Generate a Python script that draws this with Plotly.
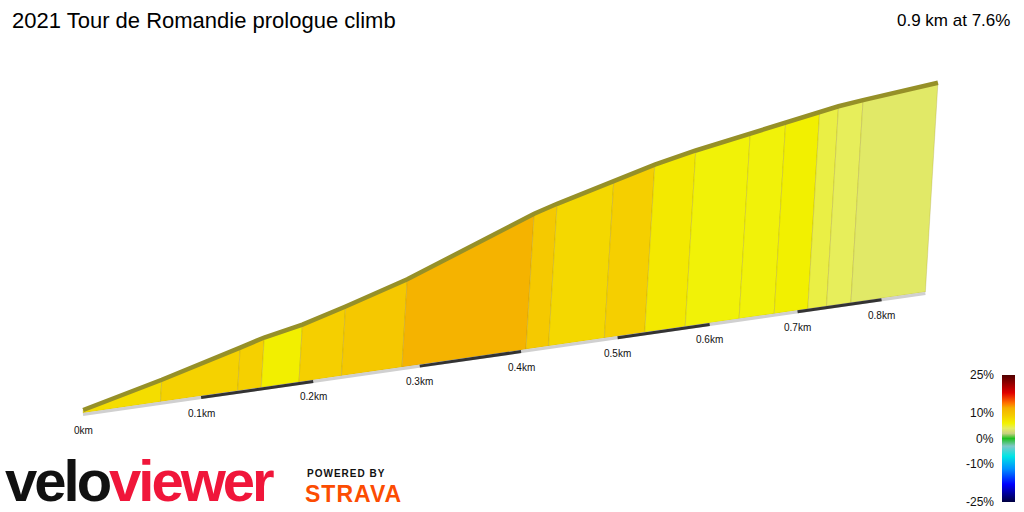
import numpy as np
import plotly.graph_objects as go
from plotly.colors import sample_colorscale

# profile: distance (km) and elevation gain (m) at segment breaks
dist = [0, 0.065, 0.132, 0.153, 0.187, 0.226, 0.283, 0.405, 0.428, 0.486,
        0.529, 0.573, 0.633, 0.673, 0.712, 0.734, 0.763, 0.854]
elev = [0, 4.98, 10.68, 12.51, 14.62, 18.05, 23.42, 37.69, 39.83, 44.49,
        48.25, 51.19, 54.71, 57.04, 59.45, 60.46, 61.66, 65.0]
tick_km = [0, 0.1, 0.2, 0.3, 0.4, 0.5, 0.6, 0.7, 0.8]
tick_labels = ["0km", "0.1km", "0.2km", "0.3km", "0.4km", "0.5km", "0.6km", "0.7km", "0.8km"]
cbar_vals = [25, 10, 0, -10, -25]
cbar_text = ["25%", "10%", "0%", "-10%", "-25%"]

grad_scale = [(-25, "#000040"), (-18, "#0000ff"), (-12, "#0090ff"), (-7, "#00e5e5"),
              (-3, "#80c8c8"), (0, "#20c020"), (2, "#c8d080"), (4, "#e6ee62"),
              (6, "#f2f200"), (9, "#f5cc00"), (12, "#f5b000"), (14, "#ff7000"),
              (18, "#e00000"), (25, "#500000")]
cscale = [[(v + 25) / 50, c] for v, c in grad_scale]

# simple perspective projection
A, B, K = 1213.0, 0.269, 3.9
def proj(d, e, lift=3.0):
    d = np.asarray(d, float); e = np.asarray(e, float)
    f = 1 + B * d
    xb = 83 + A * d / f
    yb = 413 - (xb - 83) * 0.1437
    h = K * e / f + lift
    return xb + 0.06 * h, yb - h

def base(d):
    return proj(d, 0, 0)

fig = go.Figure()
for i in range(len(dist) - 1):
    d0, d1 = dist[i], dist[i + 1]
    g = (elev[i + 1] - elev[i]) / ((d1 - d0) * 1000) * 100
    col = sample_colorscale(cscale, [(g + 25) / 50])[0]
    bx0, by0 = base(d0); bx1, by1 = base(d1)
    tx0, ty0 = proj(d0, elev[i]); tx1, ty1 = proj(d1, elev[i + 1])
    fig.add_trace(go.Scatter(x=[bx0, bx1, tx1, tx0, bx0], y=[by0, by1, ty1, ty0, by0],
                             fill="toself", fillcolor=col, mode="lines",
                             line=dict(color="rgba(150,130,40,0.35)", width=0.7),
                             hoverinfo="skip", showlegend=False))

# base strip and tick bars
bx, by = base(dist)
fig.add_trace(go.Scatter(x=bx, y=by + 1.5, mode="lines", line=dict(color="#d0d0d0", width=3),
                         hoverinfo="skip", showlegend=False))
for k in range(1, len(tick_km) - 1, 2):
    x, y = base([tick_km[k], tick_km[k + 1]])
    fig.add_trace(go.Scatter(x=x, y=y + 1.5, mode="lines", line=dict(color="#333333", width=3),
                             hoverinfo="skip", showlegend=False))

# top slab
tx, ty = proj(dist, elev)
fig.add_trace(go.Scatter(x=tx, y=ty, mode="lines", line=dict(color="#969028", width=4.5),
                         hoverinfo="skip", showlegend=False))

# colorbar
fig.add_trace(go.Scatter(x=[-10], y=[-10], mode="markers",
                         marker=dict(color=[0], cmin=-25, cmax=25, colorscale=cscale,
                                     colorbar=dict(x=1002 / 1024, xanchor="left", thickness=13,
                                                   lenmode="pixels", len=127, ypad=0, xpad=0,
                                                   y=(512 - 438.5) / 512,
                                                   yanchor="middle", outlinewidth=0,
                                                   showticklabels=False, ticks="")),
                         hoverinfo="skip", showlegend=False))

ann = []
for v, t in zip(cbar_vals, cbar_text):
    ann.append(dict(x=996, y=438.5 - v * 2.54, text=t, showarrow=False, xanchor="right",
                    font=dict(size=12, color="#111")))
tkx, tky = base(tick_km)
for x, y, t in zip(tkx, tky, tick_labels):
    ann.append(dict(x=x, y=y + 17, text=t, showarrow=False, font=dict(size=10, color="#111")))
ann += [
    dict(x=10, y=20, text="2021 Tour de Romandie prologue climb", showarrow=False, xanchor="left",
         font=dict(size=22, color="#000")),
    dict(x=1012, y=20, text="0.9 km at 7.6%", showarrow=False, xanchor="right",
         font=dict(size=17, color="#000")),
    dict(x=3, y=480, text="<b><span style='color:#111;letter-spacing:-3px'>velo</span>"
                          "<span style='color:#f0163a;letter-spacing:-3px'>viewer</span></b>",
         showarrow=False, xanchor="left", font=dict(size=58, family="Liberation Sans")),
    dict(x=305, y=473, text="<b><span style='letter-spacing:1px'>POWERED BY</span></b>",
         showarrow=False, xanchor="left", font=dict(size=10, color="#111")),
    dict(x=303, y=494, text="<b><span style='letter-spacing:1px'>STRAVA</span></b>",
         showarrow=False, xanchor="left", font=dict(size=23, color="#fc4c02")),
]

fig.update_layout(
    width=1024, height=512, margin=dict(l=0, r=0, t=0, b=0),
    paper_bgcolor="white", plot_bgcolor="white",
    font=dict(family="Liberation Sans"),
    xaxis=dict(range=[0, 1024], visible=False, fixedrange=True),
    yaxis=dict(range=[512, 0], visible=False, fixedrange=True),
    annotations=ann,
)
fig.write_html("out.html", config={"displayModeBar": False},
               post_script="document.body.style.margin='0';")
